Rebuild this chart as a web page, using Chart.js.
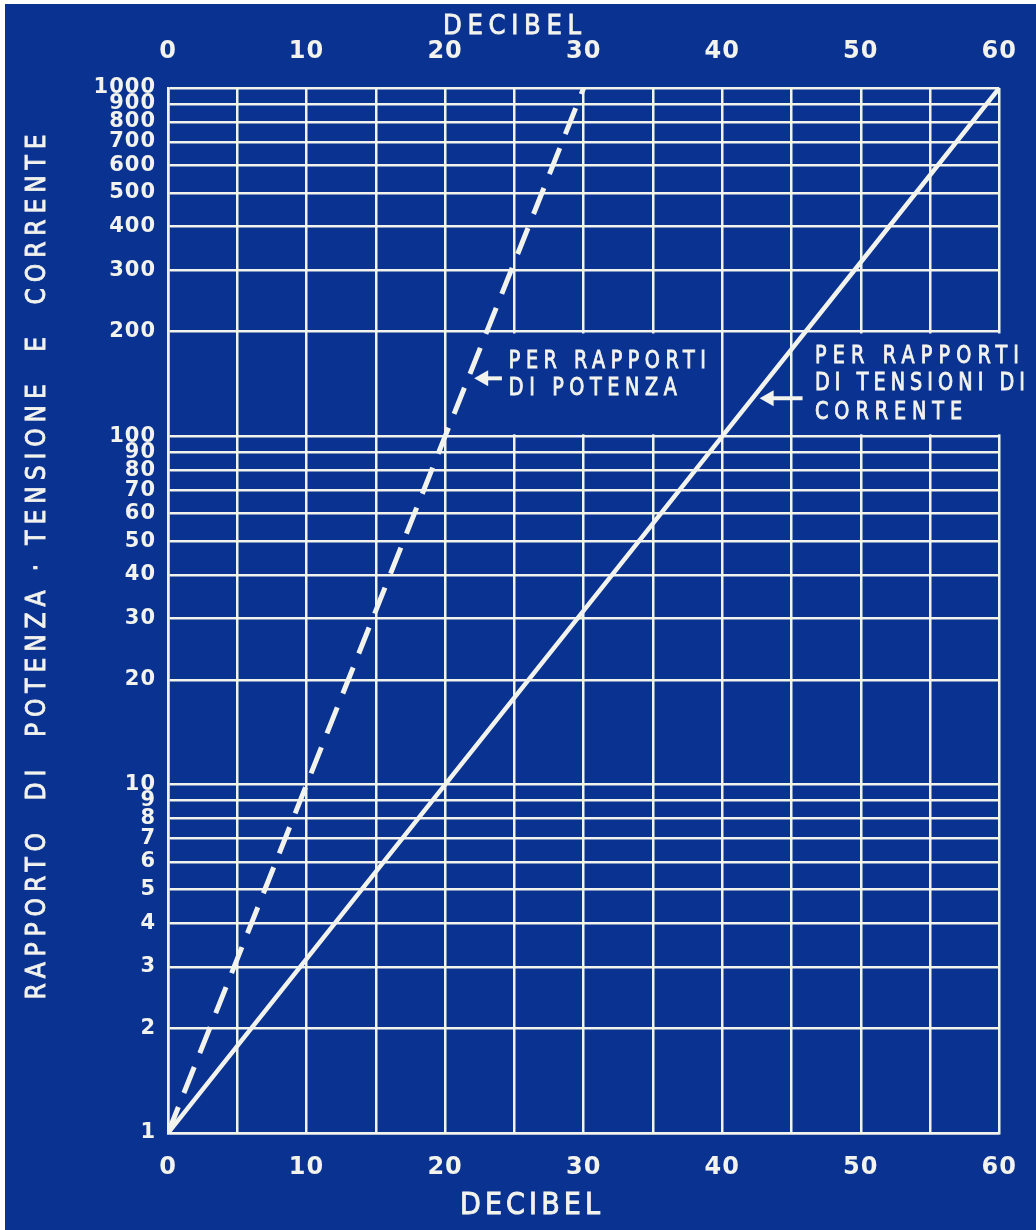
<!DOCTYPE html>
<html>
<head>
<meta charset="utf-8">
<script src="https://cdn.jsdelivr.net/npm/chart.js@4"></script>
<style>
  html, body { margin: 0; padding: 0; background: #ffffff; }
  #wrap { width: 1036px; height: 1230px; }
</style>
</head>
<body>
<div id="wrap"><canvas id="myChart" width="1036" height="1230"></canvas></div>
<script>
// decibel values and ratios
const decibelTensione = [0, 10, 20, 30, 40, 50, 60];
const rapportoTensione = [1, 3.16, 10, 31.6, 100, 316, 1000];
const decibelPotenza = [0, 5, 10, 15, 20, 25, 30];
const rapportoPotenza = [1, 3.16, 10, 31.6, 100, 316, 1000];

const yTicks = [1, 2, 3, 4, 5, 6, 7, 8, 9, 10, 20, 30, 40, 50, 60, 70, 80, 90,
                100, 200, 300, 400, 500, 600, 700, 800, 900, 1000];
const xLabels = [0, 10, 20, 30, 40, 50, 60];

const BLUE = '#0a3391';
const WHITE = '#f3f3ee';
const FONT = '"DejaVu Sans", sans-serif';

// draw text squeezed by sx and spaced out to a given width
function fitText(ctx, text, x, y, width, sx, align) {
  ctx.save();
  ctx.letterSpacing = '0px';
  const natural = ctx.measureText(text).width * sx;
  const spacing = (width - natural) / Math.max(1, text.length - 1) / sx;
  ctx.translate(x, y);
  ctx.scale(sx, 1);
  ctx.letterSpacing = spacing + 'px';
  ctx.textAlign = 'left';
  let start = 0;
  if (align === 'center') start = -width / 2 / sx;
  ctx.fillText(text, start, 0);
  ctx.strokeStyle = WHITE;
  ctx.lineWidth = 0.9;
  ctx.strokeText(text, start, 0);
  ctx.restore();
}

function arrowLeft(ctx, x1, x2, y) {
  ctx.beginPath();
  ctx.moveTo(x2, y);
  ctx.lineTo(x1 + 10, y);
  ctx.lineWidth = 4;
  ctx.strokeStyle = WHITE;
  ctx.stroke();
  ctx.beginPath();
  ctx.moveTo(x1, y);
  ctx.lineTo(x1 + 14, y - 8);
  ctx.lineTo(x1 + 14, y + 8);
  ctx.closePath();
  ctx.fillStyle = WHITE;
  ctx.fill();
}

const deco = {
  id: 'deco',
  beforeDraw(chart) {
    const ctx = chart.ctx;
    ctx.save();
    ctx.fillStyle = '#ffffff';
    ctx.fillRect(0, 0, chart.width, chart.height);
    ctx.fillStyle = BLUE;
    ctx.fillRect(5, 4, chart.width - 5, chart.height - 4);
    ctx.restore();
    ctx.letterSpacing = '1px';
  },
  beforeDatasetsDraw(chart) {
    // blank boxes behind the two notes, as on the original drawing
    const ctx = chart.ctx;
    const x = chart.scales.x, y = chart.scales.y;
    const top = y.getPixelForValue(200) + 2;
    const bottom = y.getPixelForValue(100) - 2;
    ctx.save();
    ctx.fillStyle = BLUE;
    ctx.fillRect(x.getPixelForValue(23.6), top, x.getPixelForValue(36.5) - x.getPixelForValue(23.6), bottom - top);
    ctx.fillRect(x.getPixelForValue(46.8), top, 1030 - x.getPixelForValue(46.8), bottom - top);
    ctx.restore();
  },
  afterDraw(chart) {
    const ctx = chart.ctx;
    const x = chart.scales.x, y = chart.scales.y;
    const y100 = y.getPixelForValue(100);
    ctx.save();
    ctx.fillStyle = WHITE;
    ctx.textBaseline = 'middle';

    // notes
    ctx.font = '24px ' + FONT;
    const lx = x.getPixelForValue(24.6);
    fitText(ctx, 'PER RAPPORTI', lx, y100 - 75, 197, 0.8);
    fitText(ctx, 'DI POTENZA', lx, y100 - 48, 168, 0.8);
    arrowLeft(ctx, x.getPixelForValue(22.1), x.getPixelForValue(24.1), y100 - 58);

    const rx = x.getPixelForValue(46.7);
    ctx.fillStyle = WHITE;
    fitText(ctx, 'PER RAPPORTI', rx, y100 - 80, 204, 0.8);
    fitText(ctx, 'DI TENSIONI DI', rx, y100 - 53, 210, 0.8);
    fitText(ctx, 'CORRENTE', rx, y100 - 24, 147, 0.8);
    arrowLeft(ctx, x.getPixelForValue(42.7), x.getPixelForValue(45.8), y100 - 38);

    // axis titles
    ctx.fillStyle = WHITE;
    ctx.font = '27px ' + FONT;
    fitText(ctx, 'DECIBEL', 512, 27, 138, 0.9, 'center');
    ctx.font = '30px ' + FONT;
    fitText(ctx, 'DECIBEL', 530, 1206, 140, 0.9, 'center');
    ctx.translate(38, 567);
    ctx.rotate(-Math.PI / 2);
    ctx.font = '26px ' + FONT;
    fitText(ctx, 'RAPPORTO  DI  POTENZA · TENSIONE  E  CORRENTE', 0, 0, 865, 0.9, 'center');
    ctx.restore();
  }
};

const ctx = document.getElementById('myChart');

new Chart(ctx, {
  type: 'scatter',
  data: {
    datasets: [
      {
        label: 'Per rapporti di potenza',
        data: decibelPotenza.map((d, i) => ({ x: d, y: rapportoPotenza[i] })),
        showLine: true,
        borderColor: WHITE,
        borderWidth: 5,
        borderDash: [28, 15],
        pointRadius: 0,
        borderCapStyle: 'butt'
      },
      {
        label: 'Per rapporti di tensioni di corrente',
        data: decibelTensione.map((d, i) => ({ x: d, y: rapportoTensione[i] })),
        showLine: true,
        borderColor: WHITE,
        borderWidth: 4.5,
        pointRadius: 0
      }
    ]
  },
  options: {
    responsive: false,
    animation: false,
    events: [],
    layout: { padding: { left: 0, top: 0, right: 36, bottom: 0 } },
    plugins: {
      legend: { display: false },
      tooltip: { enabled: false }
    },
    scales: {
      x: {
        type: 'linear',
        position: 'bottom',
        min: 0,
        max: 60,
        afterFit: s => { s.height = 97; },
        grid: { color: WHITE, lineWidth: 2.5, drawTicks: false },
        border: { color: WHITE, width: 2.5 },
        ticks: {
          stepSize: 5,
          autoSkip: false,
          maxRotation: 0,
          padding: 20,
          color: WHITE,
          font: { family: FONT, size: 24, weight: 'bold' },
          callback: v => (xLabels.includes(v) ? String(v) : '')
        }
      },
      xTop: {
        type: 'linear',
        position: 'top',
        min: 0,
        max: 60,
        afterFit: s => { s.height = 88; },
        grid: { display: false },
        border: { display: false },
        ticks: {
          stepSize: 10,
          maxRotation: 0,
          padding: 14,
          color: WHITE,
          font: { family: FONT, size: 24, weight: 'bold' }
        }
      },
      y: {
        type: 'logarithmic',
        min: 1,
        max: 1000,
        afterFit: s => { s.width = 168; },
        afterBuildTicks: s => { s.ticks = yTicks.map(v => ({ value: v })); },
        grid: { color: WHITE, lineWidth: 2.5, drawTicks: false },
        border: { color: WHITE, width: 2.5 },
        ticks: {
          autoSkip: false,
          padding: 12,
          color: WHITE,
          font: { family: FONT, size: 21, weight: 'bold', lineHeight: 1 },
          callback: v => String(v)
        }
      }
    }
  },
  plugins: [deco]
});
</script>
</body>
</html>
